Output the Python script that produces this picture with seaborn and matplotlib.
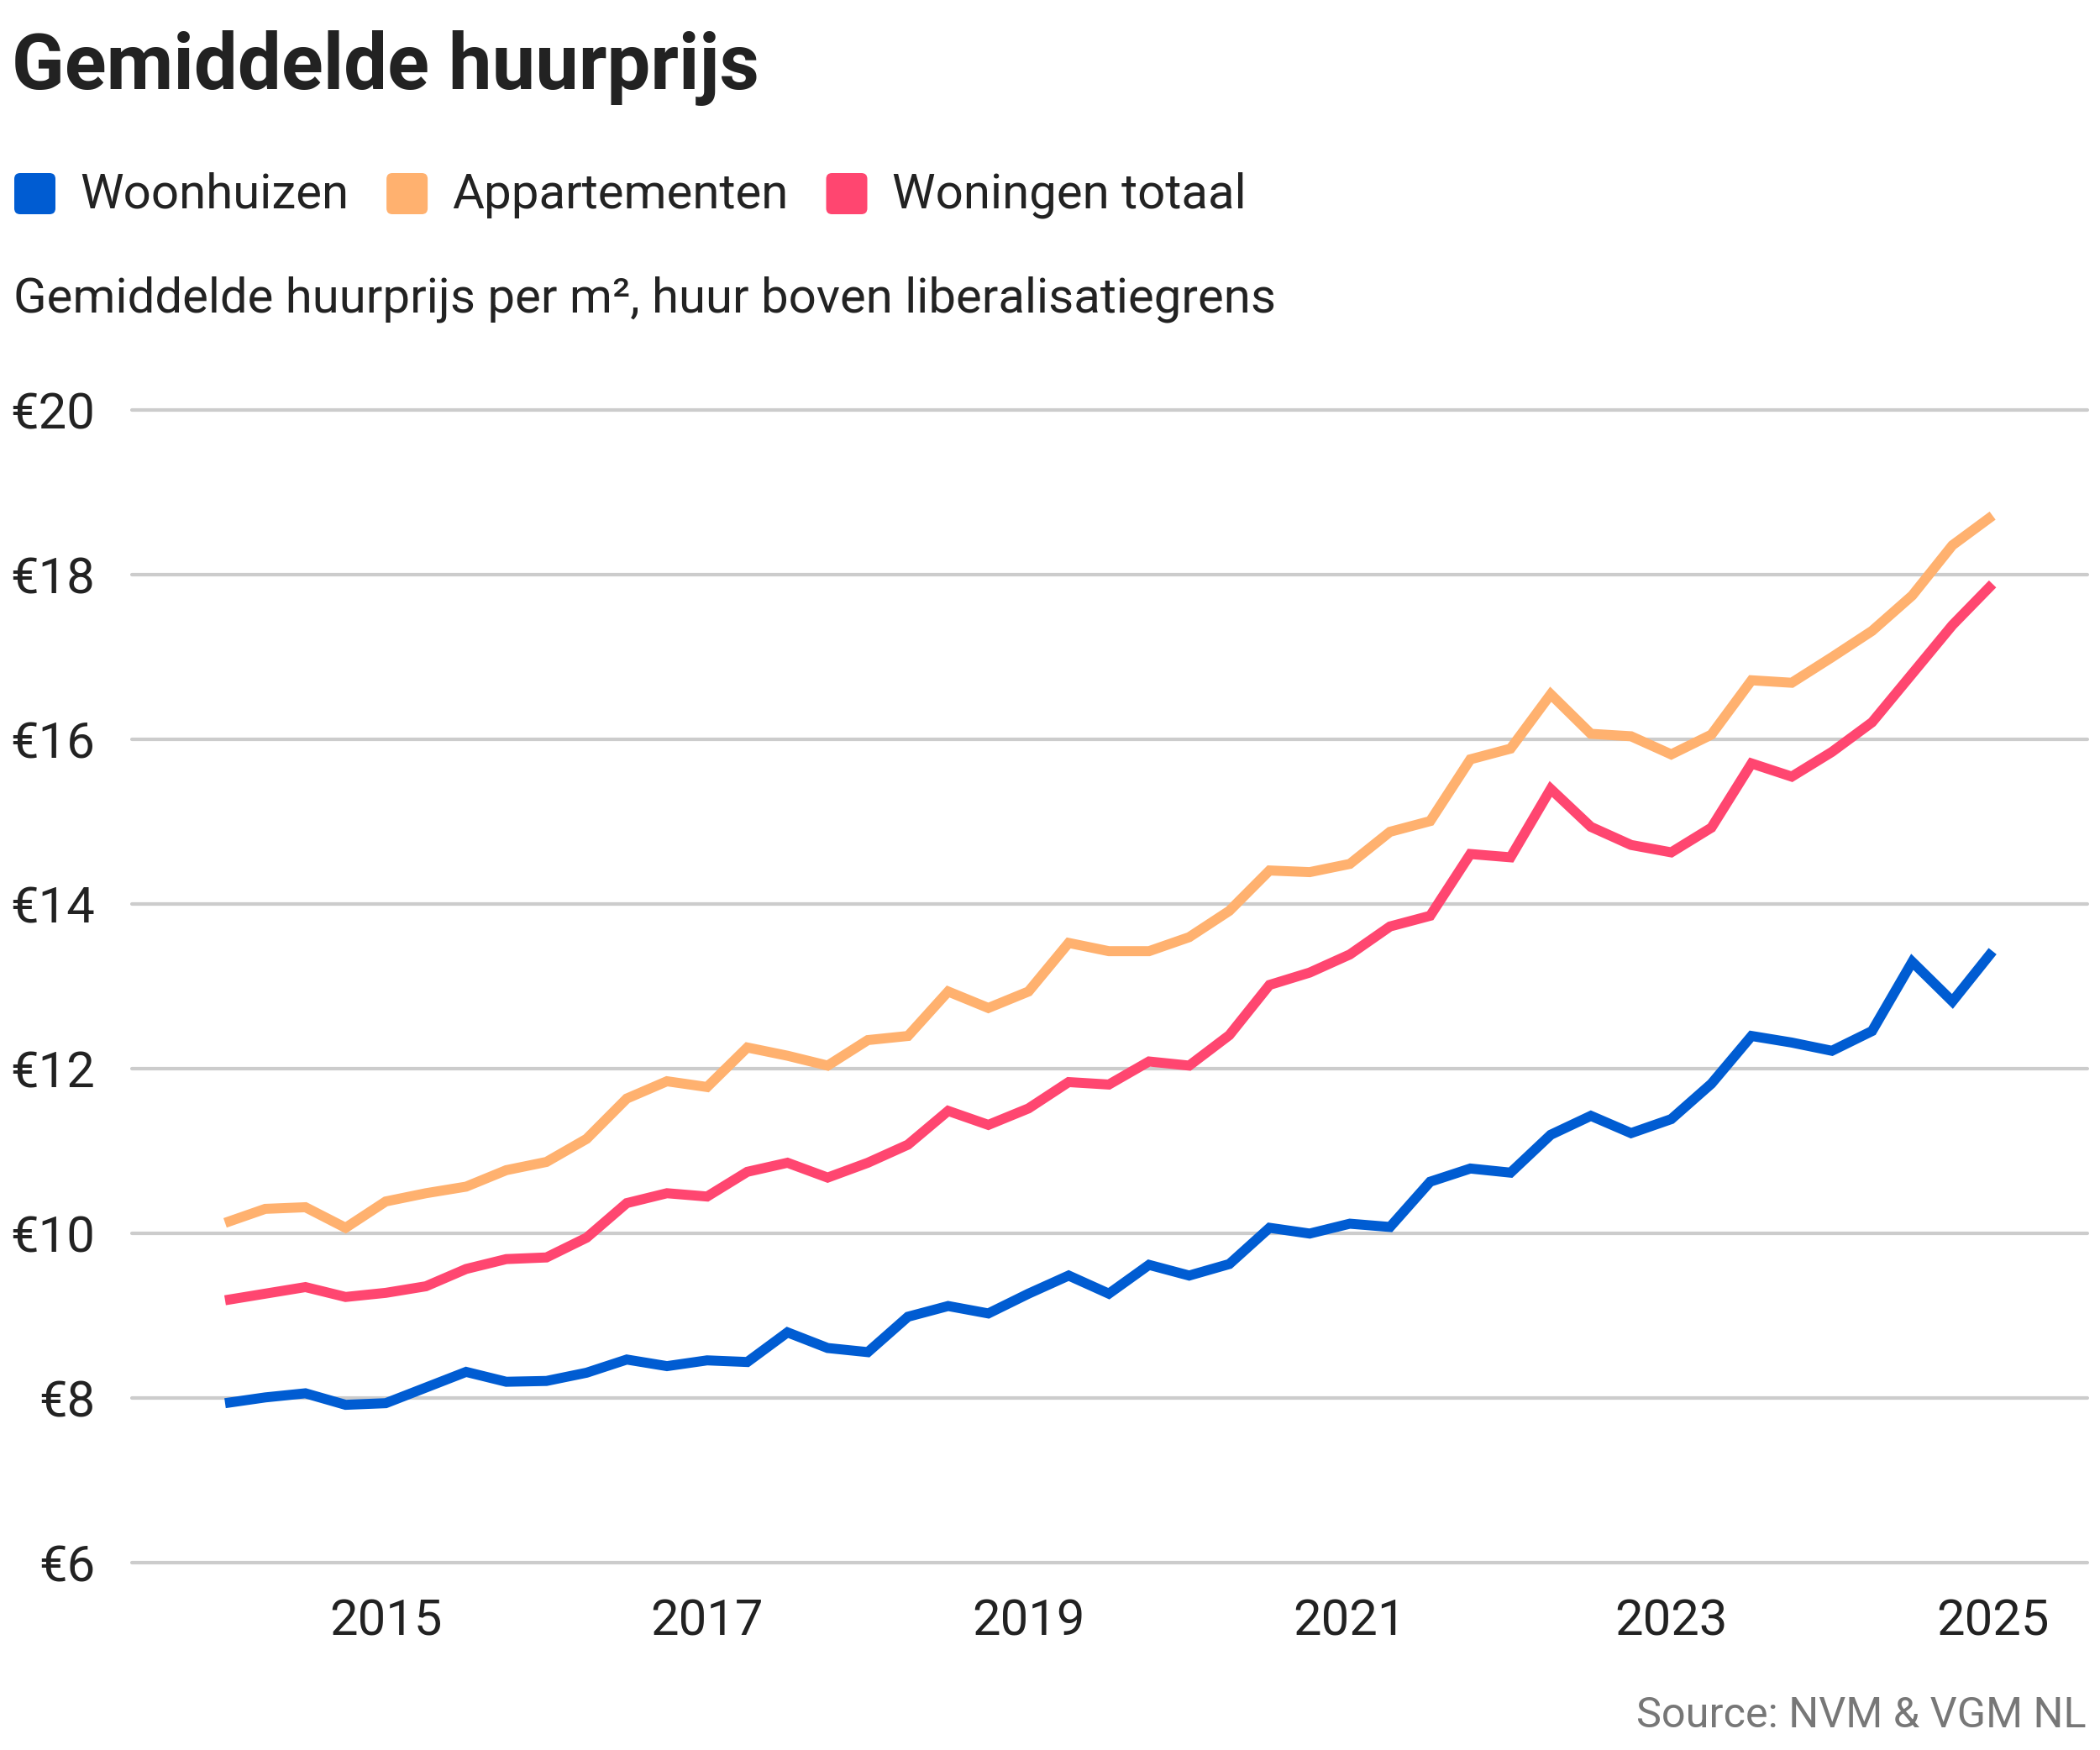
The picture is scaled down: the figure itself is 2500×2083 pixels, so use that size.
import numpy as np
import pandas as pd
import matplotlib
matplotlib.use("Agg")
import matplotlib.pyplot as plt
import seaborn as sns
from matplotlib.patches import FancyBboxPatch

# ---------------- data ----------------
quarters = [f"{y}Q{q}" for y in range(2014, 2026) for q in (1, 2, 3, 4)][:45]

woonhuizen = [7.94, 8.01, 8.06, 7.92, 7.94, 8.13, 8.32, 8.20, 8.21, 8.31,
              8.47, 8.39, 8.46, 8.44, 8.80, 8.61, 8.56, 8.99, 9.12, 9.03,
              9.27, 9.49, 9.27, 9.62, 9.49, 9.63, 10.07, 10.00, 10.12, 10.08,
              10.63, 10.79, 10.74, 11.20, 11.43, 11.22, 11.39, 11.82, 12.40, 12.32,
              12.22, 12.46, 13.30, 12.82, 13.43]
appartementen = [10.13, 10.30, 10.32, 10.07, 10.39, 10.49, 10.57, 10.77, 10.87, 11.15,
                 11.64, 11.85, 11.78, 12.26, 12.16, 12.04, 12.35, 12.40, 12.94, 12.74,
                 12.94, 13.53, 13.43, 13.43, 13.60, 13.92, 14.41, 14.39, 14.49, 14.88,
                 15.01, 15.76, 15.89, 16.55, 16.07, 16.04, 15.82, 16.06, 16.72, 16.69,
                 17.00, 17.32, 17.75, 18.36, 18.72]
woningen_totaal = [9.19, 9.27, 9.35, 9.23, 9.28, 9.36, 9.57, 9.69, 9.71, 9.95,
                   10.37, 10.49, 10.45, 10.75, 10.86, 10.68, 10.86, 11.08, 11.49, 11.32,
                   11.52, 11.84, 11.81, 12.09, 12.04, 12.41, 13.02, 13.17, 13.39, 13.73,
                   13.86, 14.61, 14.57, 15.40, 14.94, 14.72, 14.63, 14.93, 15.71, 15.55,
                   15.85, 16.21, 16.80, 17.39, 17.89]

series_names = ["Woonhuizen", "Appartementen", "Woningen totaal"]
series_colors = ["#005CD2", "#FFB16F", "#FF4670"]
y_ticks = [6, 8, 10, 12, 14, 16, 18, 20]
x_ticks = [2015, 2017, 2019, 2021, 2023, 2025]

title = "Gemiddelde huurprijs"
subtitle = "Gemiddelde huurprijs per m², huur boven liberalisatiegrens"
source = "Source: NVM & VGM NL"

# ---------------- build table ----------------
per = pd.PeriodIndex(quarters, freq="Q")
xnum = per.year + (per.quarter - 1) / 4.0
frames = []
for name, vals in zip(series_names, [woonhuizen, appartementen, woningen_totaal]):
    frames.append(pd.DataFrame({"x": xnum, "value": vals, "serie": name}))
df = pd.concat(frames, ignore_index=True)

# ---------------- figure ----------------
sns.set_theme(style="white")
plt.rcParams["font.family"] = ["Roboto", "DejaVu Sans"]
TXT = "#222222"

W, H, DPI = 2500, 2083, 100
fig = plt.figure(figsize=(W / DPI, H / DPI), dpi=DPI)
fig.patch.set_facecolor("white")

def fx(px):
    return px / W

def fy(py):
    return 1 - py / H

ax_left, ax_right, ax_top, ax_bottom = 157, 2485, 488.3, 1860.3
ax = fig.add_axes([fx(ax_left), fy(ax_bottom), fx(ax_right - ax_left), (ax_bottom - ax_top) / H])

palette = dict(zip(series_names, series_colors))
sns.lineplot(data=df, x="x", y="value", hue="serie", palette=palette,
             linewidth=8.6, ax=ax, legend=False, sort=False)
for ln in ax.get_lines():
    ln.set_solid_capstyle("butt")
    ln.set_solid_joinstyle("miter")

ax.set_xlim(2013.42, 2025.59)
ax.set_ylim(6, 20)
ax.set_yticks(y_ticks)
ax.set_yticklabels([f"€{v}" for v in y_ticks])
ax.set_xticks(x_ticks)
ax.set_xticklabels([str(v) for v in x_ticks])
ax.set_xlabel("")
ax.set_ylabel("")
for s in ax.spines.values():
    s.set_visible(False)
ax.grid(False)
ax.yaxis.grid(True, color="#CCCCCC", linewidth=3.0)
ax.set_axisbelow(True)
ax.tick_params(axis="y", length=0, pad=31.5, labelsize=43, labelcolor=TXT)
ax.tick_params(axis="x", length=0, pad=29.5, labelsize=43, labelcolor=TXT)
fig.canvas.draw()
for gl in ax.get_ygridlines():
    gl.set_clip_on(False)

# ---------------- texts ----------------
fig.text(fx(14), fy(106), title, fontsize=66.3, fontweight="bold", color=TXT,
         ha="left", va="baseline")
fig.text(fx(16), fy(371), subtitle, fontsize=41.9, color=TXT,
         ha="left", va="baseline")
fig.text(fx(2484), fy(2056), source, fontsize=36.3, color="#777777",
         ha="right", va="baseline")

# ---------------- legend ----------------
renderer = fig.canvas.get_renderer()
xpos = 17
sq = 49
for name, col in zip(series_names, series_colors):
    p = FancyBboxPatch((fx(xpos), fy(206 + sq)), fx(sq), sq / H,
                       boxstyle="round,pad=0,rounding_size=0.0028",
                       transform=fig.transFigure, facecolor=col, edgecolor="none",
                       mutation_aspect=W / H)
    fig.add_artist(p)
    t = fig.text(fx(xpos + 78), fy(248), name, fontsize=41.9, color=TXT,
                 ha="left", va="baseline")
    bb = t.get_window_extent(renderer=renderer)
    xpos = bb.x1 + 45

fig.savefig("out.png", dpi=DPI, facecolor="white")
